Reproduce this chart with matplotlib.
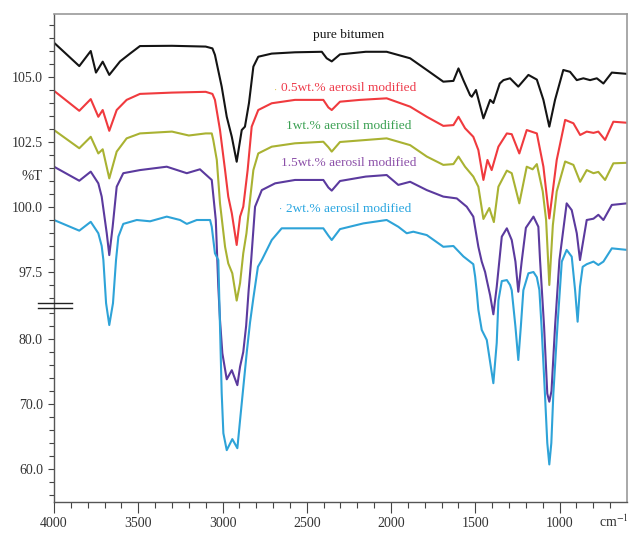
import matplotlib
matplotlib.use('Agg')
import matplotlib.pyplot as plt
import numpy as np
from matplotlib.ticker import FixedLocator, FixedFormatter

plt.rcParams['font.family'] = ['Liberation Serif', 'DejaVu Serif']
plt.rcParams['mathtext.fontset'] = 'stix'

# ── spectra (wavenumber in cm-1, transmittance in %T) ──────────────
wn_pure = [4000, 3850, 3782, 3751, 3711, 3672, 3608, 3549, 3490, 3300, 3100, 3060,
           3045, 3005, 2975, 2945, 2916, 2886, 2867, 2843, 2817, 2788, 2708, 2570,
           2411, 2382, 2352, 2303, 2150, 2026, 1887, 1788, 1690, 1630, 1600, 1571,
           1531, 1521, 1496, 1452, 1412, 1393, 1355, 1333, 1294, 1245, 1185, 1135,
           1096, 1061, 1027, 978, 938, 898, 859, 819, 779, 740, 690, 600]
t_pure = [106.32, 105.42, 106.0, 105.17, 105.59, 105.08, 105.6, 105.9, 106.19, 106.2, 106.17, 106.1,
          105.85, 104.63, 103.47, 102.7, 101.74, 102.96, 103.09, 104.0, 105.4, 105.78, 105.9, 105.95,
          105.97, 105.72, 105.6, 105.87, 105.97, 105.97, 105.72, 105.27, 104.82, 104.85, 105.33, 104.88,
          104.3, 104.24, 104.5, 103.41, 104.12, 104.0, 104.75, 104.88, 104.95, 104.63, 105.08, 104.9,
          104.12, 103.09, 104.12, 105.27, 105.2, 104.88, 104.95, 104.88, 104.95, 104.75, 105.17, 105.12]

wn_05 = [4000, 3850, 3782, 3737, 3711, 3672, 3628, 3569, 3490, 3300, 3100, 3060,
         3045, 3015, 2985, 2966, 2945, 2916, 2896, 2877, 2851, 2827, 2788, 2708,
         2570, 2402, 2372, 2352, 2303, 2184, 2026, 1887, 1788, 1690, 1630, 1600,
         1561, 1512, 1482, 1452, 1428, 1403, 1363, 1313, 1284, 1239, 1195, 1135,
         1096, 1061, 1017, 967, 918, 878, 839, 799, 770, 730, 681, 600]
t_05 = [104.47, 103.70, 104.15, 103.47, 103.73, 102.93, 103.73, 104.12, 104.35, 104.4, 104.43, 104.35,
        104.12, 102.96, 101.42, 100.4, 99.76, 98.54, 99.63, 100.01, 101.42, 103.09, 103.73, 103.99,
        104.12, 104.12, 103.83, 103.73, 104.05, 104.12, 104.18, 103.86, 103.47, 103.12, 103.15, 103.47,
        103.03, 102.7, 102.19, 101.04, 101.81, 101.42, 102.32, 102.83, 102.8, 102.06, 102.96, 102.83,
        101.55, 99.56, 101.81, 103.35, 103.22, 102.77, 102.9, 102.85, 102.9, 102.58, 103.28, 103.24]

wn_1 = [4000, 3850, 3782, 3737, 3711, 3672, 3628, 3569, 3490, 3300, 3200, 3100,
        3064, 3055, 3034, 3015, 2985, 2966, 2942, 2916, 2896, 2877, 2858, 2837,
        2817, 2788, 2708, 2570, 2402, 2372, 2352, 2303, 2026, 1887, 1788, 1690,
        1630, 1600, 1561, 1512, 1482, 1452, 1417, 1390, 1363, 1313, 1284, 1239,
        1195, 1160, 1135, 1100, 1080, 1061, 1040, 1017, 967, 918, 878, 839,
        799, 770, 730, 681, 600]
t_1 = [102.96, 102.26, 102.7, 102.06, 102.22, 101.1, 102.13, 102.64, 102.83, 102.9, 102.75, 102.83,
       102.83, 102.58, 101.81, 100.14, 98.47, 97.83, 97.45, 96.4, 97.07, 98.22, 98.99, 100.27,
       101.42, 102.06, 102.32, 102.45, 102.51, 102.3, 102.13, 102.5, 102.64, 102.38, 101.94, 101.62,
       101.65, 101.94, 101.55, 101.17, 100.78, 99.54, 99.96, 99.42, 100.78, 101.4, 101.3, 100.14,
       101.55, 101.45, 101.65, 100.6, 99.5, 97.0, 99.3, 100.6, 101.75, 101.62, 100.97, 101.42,
       101.3, 101.35, 101.04, 101.68, 101.7]

wn_15 = [4000, 3850, 3782, 3737, 3717, 3687, 3672, 3652, 3628, 3589, 3490, 3331,
         3212, 3134, 3064, 3040, 3025, 3015, 3001, 2975, 2945, 2912, 2896, 2877,
         2860, 2845, 2830, 2807, 2767, 2688, 2570, 2402, 2372, 2352, 2303, 2150,
         2026, 1957, 1887, 1788, 1690, 1610, 1551, 1512, 1482, 1462, 1442, 1432,
         1412, 1393, 1373, 1343, 1313, 1284, 1262, 1245, 1225, 1200, 1155, 1126,
         1116, 1092, 1073, 1061, 1048, 1027, 1001, 958, 928, 898, 879, 859,
         839, 799, 770, 740, 690, 600]
t_15 = [101.55, 101.01, 101.36, 100.91, 100.4, 98.99, 98.15, 99.24, 100.78, 101.3, 101.42, 101.55,
        101.3, 101.45, 101.04, 99.5, 96.93, 82.92, 77.8, 73.8, 75.2, 72.9, 75.74, 78.0,
        82.0, 96.8, 97.96, 100.01, 100.65, 100.91, 101.04, 101.04, 100.75, 100.63, 101.0, 101.17,
        101.23, 100.85, 100.97, 100.65, 100.4, 100.33, 100.01, 99.63, 98.47, 97.9, 97.5, 97.19,
        96.6, 83.8, 96.93, 98.86, 99.18, 98.73, 97.9, 96.74, 97.9, 99.2, 99.63, 99.24,
        97.96, 81.9, 71.6, 70.35, 72.0, 81.9, 97.96, 100.14, 99.88, 98.99, 97.96, 98.73,
        99.5, 99.55, 99.7, 99.5, 100.08, 100.14]

wn_2 = [4000, 3850, 3782, 3737, 3717, 3707, 3691, 3672, 3650, 3632, 3618, 3589,
        3509, 3430, 3331, 3252, 3212, 3153, 3074, 3064, 3045, 3025, 3015, 3005,
        2995, 2975, 2942, 2912, 2896, 2877, 2856, 2837, 2817, 2790, 2767, 2708,
        2649, 2570, 2402, 2372, 2352, 2303, 2164, 2026, 1957, 1907, 1868, 1788,
        1690, 1630, 1571, 1512, 1501, 1491, 1482, 1462, 1432, 1423, 1393, 1373,
        1363, 1343, 1313, 1294, 1284, 1262, 1245, 1230, 1215, 1185, 1155, 1135,
        1120, 1107, 1087, 1073, 1061, 1049, 1037, 1013, 987, 958, 928, 908,
        893, 879, 863, 839, 799, 770, 740, 690, 600]
t_2 = [99.5, 99.09, 99.43, 98.99, 98.5, 97.96, 96.3, 82.15, 96.3, 97.96, 98.86, 99.35,
       99.5, 99.45, 99.63, 99.5, 99.35, 99.5, 99.5, 99.24, 98.22, 97.96, 81.9, 71.7,
       65.5, 62.9, 64.6, 63.2, 67.5, 72.5, 78.0, 82.5, 96.5, 97.7, 97.96, 98.73,
       99.18, 99.18, 99.18, 98.9, 98.73, 99.15, 99.37, 99.5, 99.24, 98.99, 99.05, 98.92,
       98.47, 98.5, 98.1, 97.8, 97.32, 96.7, 84.5, 81.4, 79.85, 78.3, 73.2, 79.4,
       96.4, 97.15, 97.19, 97.0, 96.8, 81.9, 76.77, 81.9, 96.8, 97.45, 97.5, 97.3,
       96.81, 81.9, 71.6, 64.0, 60.7, 64.0, 71.6, 81.9, 97.9, 98.35, 98.09, 96.8,
       82.66, 96.93, 97.7, 97.8, 97.9, 97.77, 97.9, 98.41, 98.35]

series = [
    (wn_pure, t_pure, '#141414', 'pure bitumen', '#141414', 35),
    (wn_05, t_05, '#f03a3e', '0.5wt.% aerosil modified', '#ee3b4b', 88),
    (wn_1, t_1, '#a9b232', '1wt.% aerosil modified', '#3aa052', 126),
    (wn_15, t_15, '#5b3a9e', '1.5wt.% aerosil modified', '#8b4fa8', 163),
    (wn_2, t_2, '#2ea3d8', '2wt.% aerosil modified', '#2aa6e0', 209),
]

# ── broken %T axis: upper and lower parts at different scales ──────
W, H = 629, 534
knot_t = np.array([40.0, 85.0, 96.2, 115.0])
knot_px = np.array([599.0, 306.5, 305.8, -183.0])


def fwd(t):
    return -np.interp(t, knot_t, knot_px)


def inv(v):
    return np.interp(v, -knot_px, knot_t)


fig = plt.figure(figsize=(W / 100, H / 100), dpi=100)
fig.patch.set_facecolor('white')
ax = fig.add_axes([54 / W, 1 - 502 / H, 573 / W, 488 / H])
ax.set_yscale('function', functions=(fwd, inv))

for wn, t, col, label, tcol, ly in series:
    ax.plot(wn, t, color=col, lw=1.5, solid_joinstyle='round')
    fig.text(349 / W, 1 - ly / H, label, color=tcol, fontsize=9.6,
             ha='center', va='center')

ax.set_xlim(4000, 600)
ax.set_ylim(inv(-502), inv(-14))

# ticks
ax.xaxis.set_major_locator(FixedLocator([4000, 3500, 3000, 2500, 2000, 1500, 1000]))
ax.xaxis.set_minor_locator(FixedLocator(list(range(3900, 650, -100))))
ax.yaxis.set_major_locator(FixedLocator([105.0, 102.5, 100.0, 97.5, 80.0, 70.0, 60.0]))
ax.yaxis.set_major_formatter(FixedFormatter(['105.0', '102.5', '100.0', '97.5', '80.0', '70.0', '60.0']))
ax.yaxis.set_minor_locator(FixedLocator(list(np.arange(96.5, 107.5, 0.5)) + list(range(56, 86, 2))))
ax.tick_params(axis='x', which='major', length=8, width=0.8, color='#444444',
               labelsize=10, labelcolor='#333333', pad=2.5)
ax.tick_params(axis='x', which='minor', length=4.5, width=0.8, color='#444444')
ax.tick_params(axis='y', which='major', length=4, width=0.8, color='#444444',
               labelsize=10, labelcolor='#333333', pad=4)
ax.tick_params(axis='y', which='minor', length=3.5, width=0.8, color='#444444')

for side in ['top', 'right']:
    ax.spines[side].set_color('#9a9a9a')
    ax.spines[side].set_linewidth(1.2)
for side in ['left', 'bottom']:
    ax.spines[side].set_color('#555555')
    ax.spines[side].set_linewidth(1.0)

# axis labels
fig.text(32 / W, 1 - 177 / H, '%T', fontsize=10.5, color='#333333', ha='center', va='center')
fig.text(614 / W, 1 - 522 / H, 'cm$^{-1}$', fontsize=10, color='#333333', ha='center', va='center')

# break marks on the %T axis
for py in (303.0, 308.0):
    fig.add_artist(plt.Line2D([38 / W, 72 / W], [1 - py / H, 1 - py / H],
                              color='#222222', lw=1.0))

# small dots in front of two labels
fig.text(276 / W, 1 - 90 / H, '·', color='#d8c040', fontsize=7, ha='center', va='center')
fig.text(281 / W, 1 - 209 / H, '·', color='#2aa6e0', fontsize=7, ha='center', va='center')

plt.savefig('out.png', dpi=100, facecolor='white')
plt.close()
